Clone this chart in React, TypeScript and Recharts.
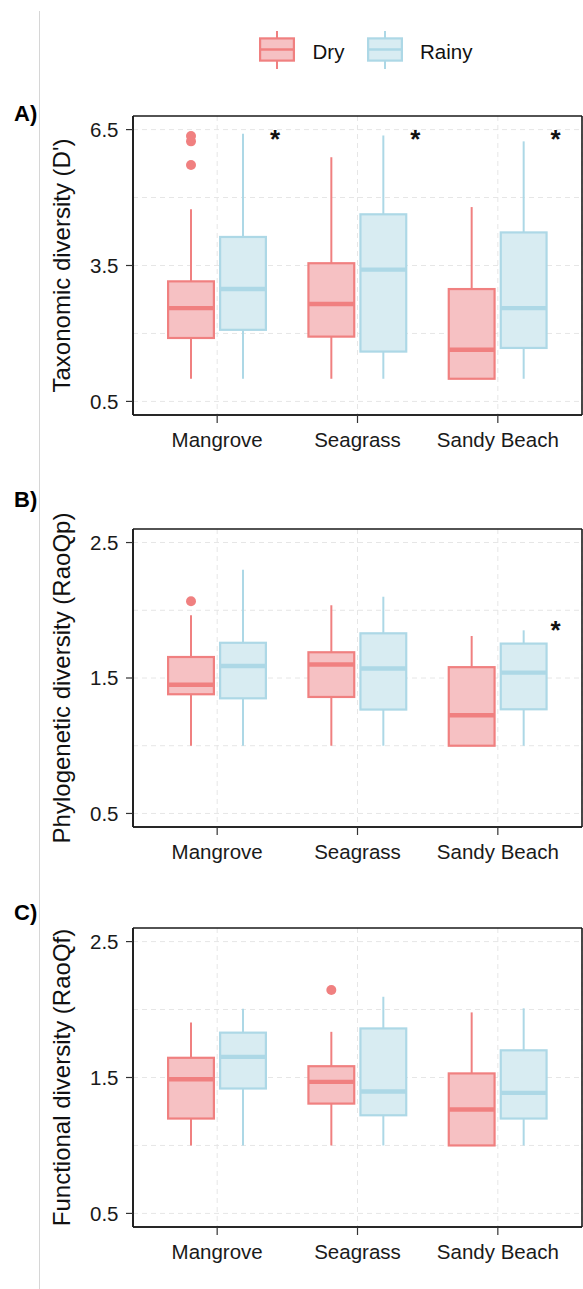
import React from 'react';
import { ComposedChart, Bar, XAxis, YAxis, CartesianGrid } from 'recharts';

// ---------- data ----------
const categories = ['Mangrove', 'Seagrass', 'Sandy Beach'];
const seasons = ['Dry', 'Rainy'];

// each entry: [lower whisker, Q1, median, Q3, upper whisker]
const taxDry = [
  [1.0, 1.9, 2.56, 3.15, 4.74],
  [1.0, 1.93, 2.65, 3.55, 5.89],
  [1.0, 1.0, 1.64, 2.98, 4.79],
];
const taxRainy = [
  [1.0, 2.08, 2.98, 4.13, 6.41],
  [1.0, 1.6, 3.41, 4.63, 6.37],
  [1.0, 1.68, 2.56, 4.23, 6.24],
];
const taxDryOut = [[6.36, 6.24, 5.72], [], []];
const taxRainyOut = [[], [], []];
const taxSig = [true, true, true];

const phyDry = [
  [1.0, 1.38, 1.45, 1.655, 1.963],
  [1.0, 1.36, 1.6, 1.69, 2.037],
  [1.0, 1.0, 1.225, 1.58, 1.81],
];
const phyRainy = [
  [1.0, 1.35, 1.589, 1.76, 2.3],
  [1.0, 1.267, 1.57, 1.83, 2.1],
  [1.0, 1.269, 1.54, 1.754, 1.852],
];
const phyDryOut = [[2.066], [], []];
const phyRainyOut = [[], [], []];
const phySig = [false, false, true];

const funDry = [
  [1.0, 1.198, 1.487, 1.645, 1.905],
  [1.0, 1.308, 1.468, 1.583, 1.836],
  [1.0, 1.0, 1.264, 1.53, 1.979],
];
const funRainy = [
  [1.0, 1.419, 1.652, 1.83, 2.006],
  [1.0, 1.222, 1.397, 1.861, 2.094],
  [1.0, 1.198, 1.387, 1.7, 2.009],
];
const funDryOut = [[], [2.144], []];
const funRainyOut = [[], [], []];
const funSig = [false, false, false];

const taxTicks = [0.5, 3.5, 6.5];
const taxGrid = [0.5, 2, 3.5, 5, 6.5];
const raoTicks = [0.5, 1.5, 2.5];
const raoGrid = [0.5, 1, 1.5, 2, 2.5];

// ---------- styles ----------
const DRY_STROKE = '#F08080';
const DRY_FILL = '#F6C1C3';
const RAINY_STROKE = '#ADD8E6';
const RAINY_FILL = '#D8ECF2';
const FONT = '"Liberation Sans", Arial, Helvetica, sans-serif';
const AXIS_STROKE = '#1a1a1a';

function makeRows(dry: number[][], rainy: number[][], dryOut: number[][], rainyOut: number[][], sig: boolean[]) {
  return categories.map((c, i) => ({
    category: c,
    dry: dry[i],
    rainy: rainy[i],
    dryOut: dryOut[i],
    rainyOut: rainyOut[i],
    sig: sig[i],
  }));
}

function boxShape(season: 'dry' | 'rainy', stroke: string, fill: string, starY: number | null) {
  return (p: any) => {
    const st: number[] = p.payload[season];
    const outs: number[] = p.payload[season + 'Out'] || [];
    const lo = st[0];
    const hi = st[4];
    const top = Math.min(p.y, p.y + p.height);
    const h = Math.abs(p.height);
    const px = (v: number) => top + (h * (hi - v)) / (hi - lo);
    const cx = p.x + p.width / 2;
    const sw = 2.2;
    const bx = p.x + sw / 2;
    const bw = p.width - sw;
    const yq3 = px(st[3]);
    const yq1 = px(st[1]);
    const ym = px(st[2]);
    return (
      <g>
        <line x1={cx} x2={cx} y1={px(hi)} y2={yq3} stroke={stroke} strokeWidth={2} />
        <line x1={cx} x2={cx} y1={yq1} y2={px(lo)} stroke={stroke} strokeWidth={2} />
        <rect x={bx} y={yq3} width={bw} height={Math.max(0, yq1 - yq3)} fill={fill} stroke={stroke} strokeWidth={sw} />
        <line x1={bx} x2={bx + bw} y1={ym} y2={ym} stroke={stroke} strokeWidth={4.4} />
        {outs.map((v, k) => (
          <circle key={k} cx={cx} cy={px(v)} r={5} fill={stroke} />
        ))}
        {starY != null && p.payload.sig ? (
          <text
            x={p.x + p.width + 8}
            y={px(starY) + 14.8}
            textAnchor="middle"
            fontSize={26}
            fontWeight="bold"
            fontFamily={FONT}
            fill="#111"
          >
            *
          </text>
        ) : null}
      </g>
    );
  };
}

type PanelProps = {
  title: string;
  rows: any[];
  domain: [number, number];
  ticks: number[];
  gridValues: number[];
  starY: number | null;
  height: number;
  marginTop: number;
};

function Panel({ title, rows, domain, ticks, gridValues, starY, height, marginTop }: PanelProps) {
  const axisLine = { stroke: AXIS_STROKE, strokeWidth: 1.6 };
  return (
    <ComposedChart
      width={583}
      height={height}
      data={rows}
      margin={{ top: marginTop, right: 1, bottom: 0, left: 0 }}
      barGap={4}
      barSize={48}
    >
      <CartesianGrid stroke="#E6E6E6" strokeDasharray="5 4" horizontalValues={gridValues} />
      <CartesianGrid
        stroke={AXIS_STROKE}
        strokeWidth={1.6}
        fill="none"
        horizontalCoordinatesGenerator={(g: any) => [g.offset.top, g.offset.top + g.offset.height]}
        verticalCoordinatesGenerator={(g: any) => [g.offset.left, g.offset.left + g.offset.width]}
      />
      <XAxis
        dataKey="category"
        type="category"
        padding={{ left: 14, right: 14 }}
        height={40}
        tickSize={8}
        tickMargin={9}
        interval={0}
        axisLine={axisLine}
        tickLine={{ stroke: '#333', strokeWidth: 1.2 }}
        tick={{ fontSize: 20.5, fill: '#1a1a1a', fontFamily: FONT }}
      />
      <YAxis
        type="number"
        domain={domain}
        ticks={ticks}
        interval={0}
        width={133}
        tickSize={7}
        tickMargin={7.5}
        axisLine={axisLine}
        tickLine={{ stroke: '#333', strokeWidth: 1.2 }}
        tick={{ fontSize: 20.5, fill: '#1a1a1a', fontFamily: FONT }}
        label={{
          content: (lp: any) => {
            const vb = lp.viewBox || { x: 0, y: marginTop, width: 133, height: height - marginTop - 40 };
            const cx = 69.5;
            const cy = vb.y + vb.height / 2;
            return (
              <text
                x={cx}
                y={cy}
                transform={`rotate(-90 ${cx} ${cy})`}
                textAnchor="middle"
                fontSize={24}
                fontFamily={FONT}
                fill="#111"
              >
                {title}
              </text>
            );
          },
        }}
      />
      <Bar
        name={seasons[0]}
        dataKey={(d: any) => [d.dry[0], d.dry[4]]}
        shape={boxShape('dry', DRY_STROKE, DRY_FILL, null)}
        isAnimationActive={false}
      />
      <Bar
        name={seasons[1]}
        dataKey={(d: any) => [d.rainy[0], d.rainy[4]]}
        shape={boxShape('rainy', RAINY_STROKE, RAINY_FILL, starY)}
        isAnimationActive={false}
      />
    </ComposedChart>
  );
}

function LegendKey({ x, stroke, fill }: { x: number; stroke: string; fill: string }) {
  const w = 36;
  const top = 38.4;
  const bottom = 60.6;
  const cx = x + w / 2;
  return (
    <g>
      <line x1={cx} x2={cx} y1={31} y2={69} stroke={stroke} strokeWidth={2} />
      <rect x={x + 1.1} y={top} width={w - 2.2} height={bottom - top} fill={fill} stroke={stroke} strokeWidth={2.2} />
      <line x1={x + 1.1} x2={x + w - 1.1} y1={49.5} y2={49.5} stroke={stroke} strokeWidth={2.6} />
    </g>
  );
}

export default function App() {
  const taxRows = makeRows(taxDry, taxRainy, taxDryOut, taxRainyOut, taxSig);
  const phyRows = makeRows(phyDry, phyRainy, phyDryOut, phyRainyOut, phySig);
  const funRows = makeRows(funDry, funRainy, funDryOut, funRainyOut, funSig);
  return (
    <div
      style={{
        position: 'absolute',
        left: 0,
        top: 0,
        width: 583,
        height: 1289,
        background: '#fff',
        overflow: 'hidden',
      }}
    >
      <div style={{ position: 'absolute', left: 0, top: 0 }}>
        <Panel
          title="Taxonomic diversity (D')"
          rows={taxRows}
          domain={[0.2, 6.8]}
          ticks={taxTicks}
          gridValues={taxGrid}
          starY={6.43}
          height={455}
          marginTop={116}
        />
      </div>
      <div style={{ position: 'absolute', left: 0, top: 455 }}>
        <Panel
          title="Phylogenetic diversity (RaoQp)"
          rows={phyRows}
          domain={[0.4, 2.6]}
          ticks={raoTicks}
          gridValues={raoGrid}
          starY={1.9}
          height={412}
          marginTop={74}
        />
      </div>
      <div style={{ position: 'absolute', left: 0, top: 867 }}>
        <Panel
          title="Functional diversity (RaoQf)"
          rows={funRows}
          domain={[0.4, 2.6]}
          ticks={raoTicks}
          gridValues={raoGrid}
          starY={null}
          height={400}
          marginTop={61}
        />
      </div>
      <svg
        width={583}
        height={1289}
        style={{ position: 'absolute', left: 0, top: 0, pointerEvents: 'none' }}
      >
        <line x1={39.5} x2={39.5} y1={11} y2={1289} stroke="#D6D6D6" strokeWidth={1} />
        <LegendKey x={259} stroke={DRY_STROKE} fill={DRY_FILL} />
        <text x={312.5} y={59.3} fontSize={20.5} fontFamily={FONT} fill="#111">
          {seasons[0]}
        </text>
        <LegendKey x={367} stroke={RAINY_STROKE} fill={RAINY_FILL} />
        <text x={420} y={59.3} fontSize={20.5} fontFamily={FONT} fill="#111">
          {seasons[1]}
        </text>
        <text x={14} y={121} fontSize={22} fontWeight="bold" fontFamily={FONT} fill="#000">
          A)
        </text>
        <text x={14} y={507} fontSize={22} fontWeight="bold" fontFamily={FONT} fill="#000">
          B)
        </text>
        <text x={14} y={920} fontSize={22} fontWeight="bold" fontFamily={FONT} fill="#000">
          C)
        </text>
      </svg>
    </div>
  );
}
